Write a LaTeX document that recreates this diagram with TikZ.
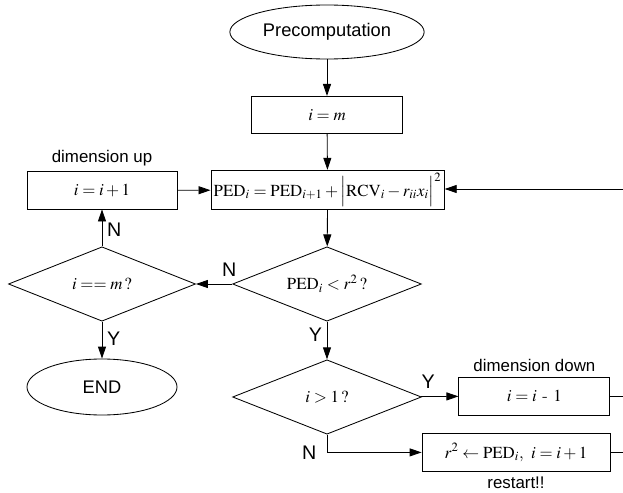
\documentclass[tikz,border=0pt]{standalone}
\usepackage{amsmath}
\usepackage{mathptmx}
\usepackage{fontspec}
\setsansfont{Liberation Sans}
\usepackage{tikz}
\usetikzlibrary{shapes.geometric, arrows.meta, positioning, calc}

\begin{document}
\begin{tikzpicture}[>={Triangle[length=0.3cm,width=0.2cm]}, line width=0.6pt]
    \tikzstyle{procbox} = [rectangle, draw, minimum width=3.775cm, minimum height=0.93cm, inner sep=2pt, font=\fontsize{12}{14}\selectfont]
    \tikzstyle{decide} = [diamond, draw, aspect=2.5, inner sep=0pt, minimum width=4.72cm, minimum height=1.86cm, font=\fontsize{12}{14}\selectfont]
    \tikzstyle{termin} = [ellipse, draw, minimum width=3.775cm, minimum height=1.35cm, font=\sffamily\fontsize{13}{15}\selectfont]
    \tikzstyle{yn} = [font=\sffamily\fontsize{14}{16}\selectfont]
    \tikzstyle{note} = [font=\sffamily\fontsize{12}{14}\selectfont]

    \useasboundingbox (0,0) rectangle (15.575,-12.325);

    \node [termin] (pre) at (8.175,-0.8) {Precomputation};
    \node [procbox] (im) at (8.175,-2.875) {$i = m$};
    \node [procbox, minimum width=5.675cm, minimum height=0.95cm] (ped) at (8.19,-4.75)
        {$\mathrm{PED}_i = \mathrm{PED}_{i+1} + \Bigl|\mathrm{RCV}_i - r_{ii} x_i\Bigr|^2$};
    \node [procbox, minimum width=3.75cm] (up) at (2.55,-4.76) {$i = i + 1$};
    \node [decide] (pedq) at (8.175,-7.1) {$\mathrm{PED}_i < r^2\,?$};
    \node [decide, minimum width=4.675cm] (eqm) at (2.55,-7.1) {$i == m\,?$};
    \node [termin, minimum width=3.75cm, minimum height=1.4cm] (end) at (2.55,-9.675) {END};
    \node [decide] (gt) at (8.175,-9.925) {$i > 1\,?$};
    \node [procbox, minimum height=0.95cm] (down) at (13.36,-9.9) {$i = i$ - $1$};
    \node [procbox, minimum width=4.7cm, minimum height=0.95cm] (rst) at (12.9,-11.31) {$r^2 \leftarrow \mathrm{PED}_i,\ i = i + 1$};

    \node [note, above=0pt of up] {dimension up};
    \node [note, above=0pt of down] {dimension down};
    \node [note, below=0pt of rst] {restart!!};

    \coordinate (rin) at (15.575,-4.725);
    \coordinate (dout) at (15.575,-9.9);
    \coordinate (rout) at (15.575,-11.31);

    \path [draw, ->] (pre) -- (im);
    \path [draw, ->] (im) -- (ped);
    \path [draw, ->] (up) -- (ped);
    \path [draw, ->] (rin) -- (rin -| ped.east);
    \path [draw, ->] (ped) -- (pedq);
    \path [draw, ->] (pedq) -- node [yn, above=2pt, pos=0.08] {N} (eqm);
    \path [draw, ->] (eqm) -- node [yn, right, pos=0.45] {N} (up);
    \path [draw, ->] (eqm) -- node [yn, right, pos=0.45] {Y} (end);
    \path [draw, ->] (pedq) -- node [yn, left, pos=0.35] {Y} (gt);
    \path [draw, ->] (gt) -- node [yn, above=2pt, pos=0.2] {Y} (down);
    \path [draw, ->] (gt.south) |- node [yn, left=4pt, pos=0.5] {N} (rst.west);
    \path [draw] (down) -- (dout);
    \path [draw] (rst) -- (rout);
\end{tikzpicture}
\end{document}
